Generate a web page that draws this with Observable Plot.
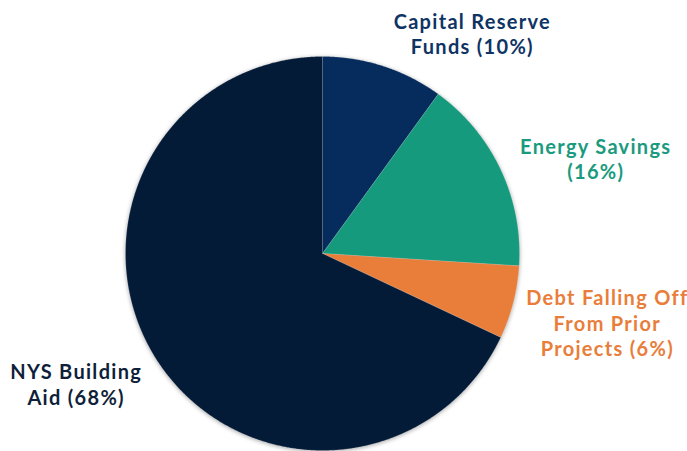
<!DOCTYPE html>
<html>
<head>
<meta charset="utf-8">
<script src="https://cdn.jsdelivr.net/npm/d3@7"></script>
<script src="https://cdn.jsdelivr.net/npm/@observablehq/plot@0.6"></script>
<style>
  html, body { margin: 0; padding: 0; background: #ffffff; }
  #chart svg { display: block; }
</style>
</head>
<body>
<div id="chart"></div>
<script>
// ---- data ----
const categories = ["Capital Reserve Funds", "Energy Savings", "Debt Falling Off From Prior Projects", "NYS Building Aid"];
const shares = [10, 16, 6, 68];
const labels = ["Capital Reserve\nFunds (10%)", "Energy Savings\n(16%)", "Debt Falling Off\nFrom Prior\nProjects (6%)", "NYS Building\nAid (68%)"];

// ---- styling / layout ----
const sliceColors = ["#052c5d", "#169a7d", "#e97d3a", "#041b38"];
const textColors = ["#0e3464", "#1a9a7e", "#e97d3a", "#0f1f3a"];
const labelOffsets = [[89, -33], [95, -11], [94, 20], [-80, 25]];

const pie = d3.pie().sort(null).value(d => d.value)(
  categories.map((c, i) => ({category: c, value: shares[i]}))
);

// polygon vertices in unit-circle coordinates (angle from 12 o'clock, clockwise)
const verts = [];
pie.forEach(s => {
  const c = s.data.category;
  verts.push({category: c, x: 0, y: 0});
  const n = Math.max(4, Math.ceil((s.endAngle - s.startAngle) / 0.005));
  for (let k = 0; k <= n; k++) {
    const a = s.startAngle + (s.endAngle - s.startAngle) * k / n;
    verts.push({category: c, x: Math.sin(a), y: Math.cos(a)});
  }
  verts.push({category: c, x: 0, y: 0});
});

const labelData = pie.map((s, i) => {
  const a = (s.startAngle + s.endAngle) / 2;
  return {category: s.data.category, text: labels[i], x: Math.sin(a), y: Math.cos(a),
          dx: labelOffsets[i][0], dy: labelOffsets[i][1], color: textColors[i]};
});

const chart = Plot.plot({
  width: 687,
  height: 451,
  margin: 0,
  x: {domain: [-1, 1], range: [125, 519], axis: null},
  y: {domain: [-1, 1], range: [450, 56], axis: null},
  color: {domain: categories, range: sliceColors},
  style: {background: "#ffffff", overflow: "visible"},
  marks: [
    Plot.line(verts, {x: "x", y: "y", z: "category", fill: "category", stroke: "#ffffff", strokeOpacity: 0.25, strokeWidth: 0.6, curve: "linear"}),
    ...labelData.map(d => Plot.text([d], {
      x: "x", y: "y", text: "text", dx: d.dx, dy: d.dy,
      fill: d.color, fontSize: 20, fontWeight: "bold",
      fontFamily: "Lato", lineHeight: 1.27, textAnchor: "middle", lineAnchor: "middle"
    }))
  ]
});

chart.querySelector("g[aria-label='line']")?.setAttribute("style", "filter: drop-shadow(0px 1px 2px rgba(0,0,0,0.35))");
chart.querySelectorAll("g[aria-label='text']").forEach(g => g.setAttribute("letter-spacing", "1.3"));
document.getElementById("chart").appendChild(chart);
</script>
</body>
</html>
